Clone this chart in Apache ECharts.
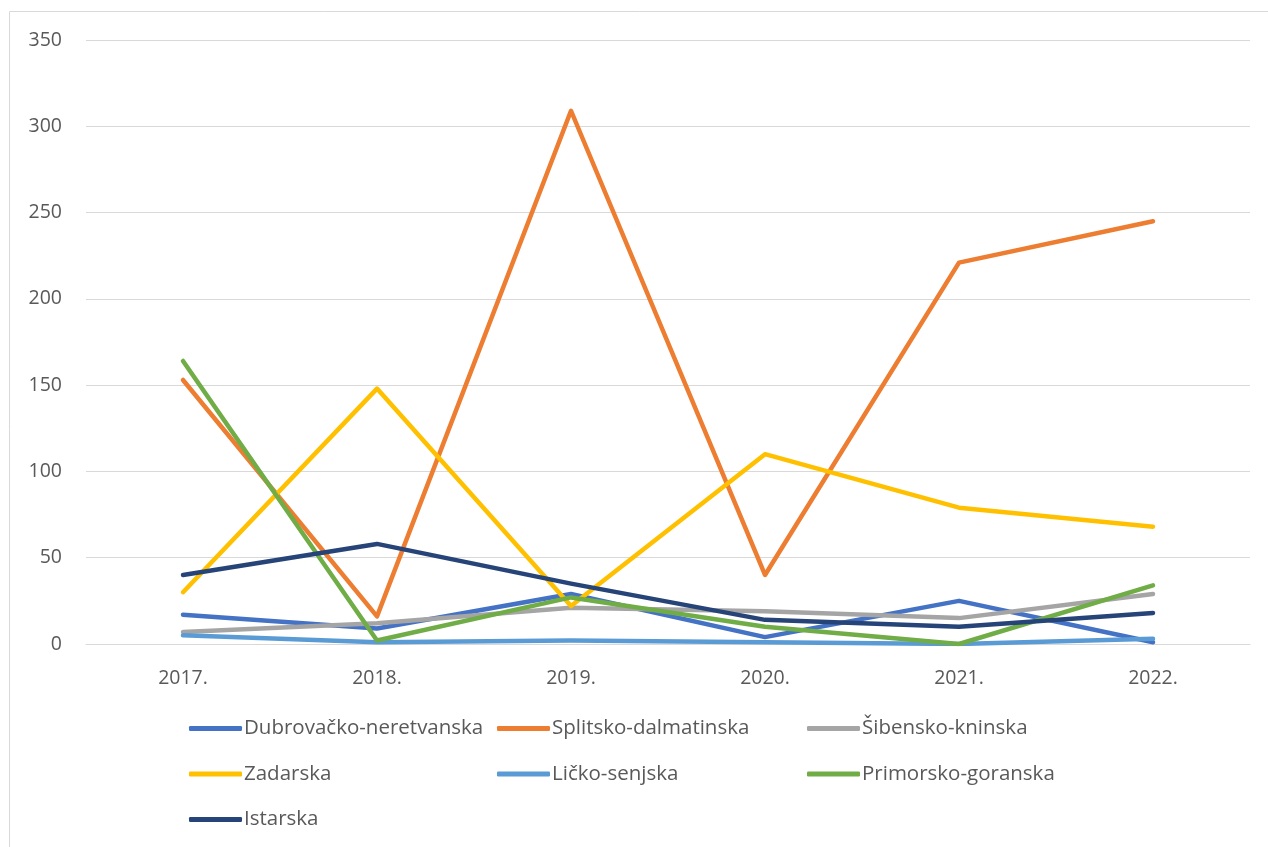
<!DOCTYPE html>
<html><head><meta charset="utf-8">
<script src="https://cdn.jsdelivr.net/npm/echarts@6/dist/echarts.min.js"></script>
<style>html,body{margin:0;padding:0;background:#fff}#c{width:1268px;height:847px}</style>
</head><body><div id="c"></div>
<script>
var categories = ['2017.', '2018.', '2019.', '2020.', '2021.', '2022.'];
var names = ['Dubrovačko-neretvanska', 'Splitsko-dalmatinska', 'Šibensko-kninska', 'Zadarska', 'Ličko-senjska', 'Primorsko-goranska', 'Istarska'];
var dubrovacko = [17, 9, 29, 4, 25, 1];
var splitsko = [153, 16, 309, 40, 221, 245];
var sibensko = [7, 12, 21, 19, 15, 29];
var zadarska = [30, 148, 22, 110, 79, 68];
var licko = [5, 1, 2, 1, 0, 3];
var primorsko = [164, 2, 27, 10, 0, 34];
var istarska = [40, 58, 35, 14, 10, 18];
var yTicks = [0, 50, 100, 150, 200, 250, 300, 350];

var colors = ['#4472c4', '#ed7d31', '#a5a5a5', '#ffc000', '#5b9bd5', '#70ad47', '#264478'];
var dataList = [dubrovacko, splitsko, sibensko, zadarska, licko, primorsko, istarska];
var font = '"Open Sans", "Noto Sans", sans-serif';

var chart = echarts.init(document.getElementById('c'));
var legendCommon = {
  orient: 'vertical', top: 713, itemWidth: 53, itemHeight: 5, itemGap: 24.5,
  icon: 'roundRect',
  textStyle: { fontSize: 20.5, color: '#595959', fontFamily: font, padding: [0, 0, 0, -3] }
};
chart.setOption({
  animation: false,
  color: colors,
  graphic: [{ type: 'rect', shape: { x: 9.5, y: 11.5, width: 1300, height: 900 }, style: { fill: 'none', stroke: '#d9d9d9', lineWidth: 1 } }],
  grid: { left: 86, right: 18, top: 40, bottom: 203 },
  legend: [
    Object.assign({}, legendCommon, { left: 184, data: [names[0], names[3], names[6]] }),
    Object.assign({}, legendCommon, { left: 492, data: [names[1], names[4]] }),
    Object.assign({}, legendCommon, { left: 802, data: [names[2], names[5]] })
  ],
  xAxis: {
    type: 'category', data: categories, boundaryGap: true,
    axisLine: { lineStyle: { color: '#d9d9d9' } }, axisTick: { show: false },
    axisLabel: { fontSize: 19.5, color: '#595959', fontFamily: font, margin: 24 }
  },
  yAxis: {
    type: 'value', min: 0, max: 350, interval: 50,
    axisLine: { show: false }, axisTick: { show: false },
    splitLine: { lineStyle: { color: '#d9d9d9', width: 1 } },
    axisLabel: { fontSize: 19.5, color: '#595959', fontFamily: font, margin: 24 }
  },
  series: names.map(function (n, i) {
    return { name: n, type: 'line', data: dataList[i], symbol: 'none',
      lineStyle: { width: 4.5, cap: 'round', join: 'round' } };
  })
});
</script></body></html>
